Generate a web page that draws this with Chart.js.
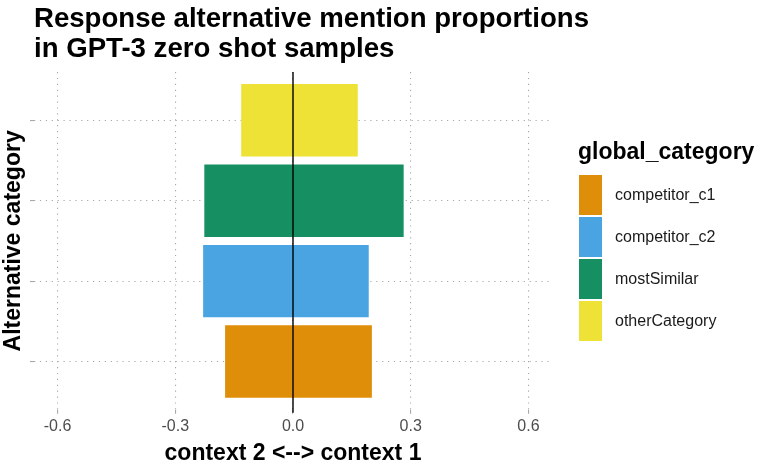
<!DOCTYPE html>
<html>
<head>
<meta charset="utf-8">
<script src="https://cdn.jsdelivr.net/npm/chart.js@4.4.1/dist/chart.umd.min.js"></script>
<style>
  html, body { margin: 0; padding: 0; background: #ffffff; }
  #wrap { position: relative; width: 770px; height: 475px; overflow: hidden; }
  #c { position: absolute; left: 0; top: 0; }
  .lg { position: absolute; font-family: "Liberation Sans", Arial, Helvetica, sans-serif; white-space: nowrap; }
  .lg-title { font-weight: bold; font-size: 23px; line-height: 23px; color: #000; }
  .lg-box { position: absolute; }
  .lg-label { font-size: 16px; line-height: 40px; height: 40px; color: #1a1a1a; }
  #title { position: absolute; left: 34px; top: 3px; font-family: "Liberation Sans", Arial, Helvetica, sans-serif;
           font-weight: bold; font-size: 27.6px; line-height: 30px; color: #000; white-space: nowrap; margin: 0; }
</style>
</head>
<body>
<div id="wrap">
  <canvas id="c" width="770" height="475"></canvas>
  <div id="title"></div>
  <div id="legend"></div>
</div>
<script>
// ---- data ----
const categories = ['competitor_c1', 'competitor_c2', 'mostSimilar', 'otherCategory'];
const context2Values = [-0.173, -0.229, -0.226, -0.132];
const context1Values = [0.201, 0.193, 0.282, 0.165];
const categoryColors = ['#DF8E0A', '#4AA4E2', '#168F62', '#EEE236'];
const xTickValues = [-0.6, -0.3, 0, 0.3, 0.6];
const xTickLabels = ['-0.6', '-0.3', '0.0', '0.3', '0.6'];
const titleLines = ['Response alternative mention proportions', 'in GPT-3 zero shot samples'];
const legendTitle = 'global_category';

const FONT = '"Liberation Sans", Arial, Helvetica, sans-serif';

// ---- title ----
const titleEl = document.getElementById('title');
titleLines.forEach(line => {
  const d = document.createElement('div');
  d.textContent = line;
  titleEl.appendChild(d);
});

// ---- HTML legend ----
const legend = document.getElementById('legend');
const t = document.createElement('div');
t.className = 'lg lg-title';
t.style.left = '578px';
t.style.top = '140px';
t.textContent = legendTitle;
legend.appendChild(t);
categories.forEach((c, i) => {
  const top = 175 + i * 41.9;
  const b = document.createElement('div');
  b.className = 'lg-box';
  b.style.left = '579px';
  b.style.top = top + 'px';
  b.style.width = '23px';
  b.style.height = '40px';
  b.style.background = categoryColors[i];
  legend.appendChild(b);
  const l = document.createElement('div');
  l.className = 'lg lg-label';
  l.style.left = '615px';
  l.style.top = top + 'px';
  l.textContent = c;
  legend.appendChild(l);
});

// ---- zero line plugin ----
const zeroLine = {
  id: 'zeroLine',
  afterDatasetsDraw(chart) {
    const {ctx, chartArea, scales} = chart;
    const x = scales.x.getPixelForValue(0);
    ctx.save();
    ctx.strokeStyle = '#000000';
    ctx.lineWidth = 1.4;
    ctx.beginPath();
    ctx.moveTo(x, chartArea.top);
    ctx.lineTo(x, chartArea.bottom + 3);
    ctx.stroke();
    ctx.restore();
  }
};

const gridDash = [1.2, 4.7];

new Chart(document.getElementById('c'), {
  type: 'bar',
  data: {
    datasets: [{
      label: 'proportion',
      data: categories.map((c, i) => ({ y: i + 1, x: [context2Values[i], context1Values[i]] })),
      backgroundColor: categoryColors,
      borderWidth: 0,
      barPercentage: 0.9,
      categoryPercentage: 1.0
    }]
  },
  options: {
    indexAxis: 'y',
    responsive: false,
    animation: false,
    devicePixelRatio: 1,
    layout: { padding: { left: 0, right: 218, top: 72, bottom: 0 } },
    plugins: {
      legend: { display: false },
      tooltip: { enabled: false },
      title: { display: false }
    },
    scales: {
      x: {
        type: 'linear',
        min: -0.66,
        max: 0.66,
        afterBuildTicks: s => { s.ticks = xTickValues.map(v => ({ value: v })); },
        ticks: {
          color: '#4D4D4D',
          font: { family: FONT, size: 16 },
          padding: 3,
          maxRotation: 0,
          callback: (v, i) => xTickLabels[i]
        },
        grid: {
          color: '#A8A8A8',
          lineWidth: 1.1,
          drawTicks: true,
          tickLength: 4,
          tickColor: '#A8A8A8',
          tickWidth: 1.1,
          tickBorderDash: []
        },
        border: { display: false, dash: gridDash },
        title: {
          display: true,
          text: 'context 2 <--> context 1',
          color: '#000000',
          font: { family: FONT, size: 23, weight: 'bold', lineHeight: 1.0 },
          padding: { top: 3, bottom: 10 }
        }
      },
      y: {
        type: 'linear',
        min: 0.4,
        max: 4.6,
        offset: false,
        afterBuildTicks: s => { s.ticks = categories.map((c, i) => ({ value: i + 1 })); },
        ticks: { display: false },
        grid: {
          offset: false,
          color: '#A8A8A8',
          lineWidth: 1.1,
          drawTicks: true,
          tickLength: 4,
          tickColor: '#A8A8A8',
          tickWidth: 1.1,
          tickBorderDash: []
        },
        border: { display: false, dash: gridDash },
        title: {
          display: true,
          text: 'Alternative category',
          color: '#000000',
          font: { family: FONT, size: 23, weight: 'bold', lineHeight: 1.0 },
          padding: { top: 2, bottom: 5 }
        }
      }
    }
  },
  plugins: [zeroLine]
});
</script>
</body>
</html>
